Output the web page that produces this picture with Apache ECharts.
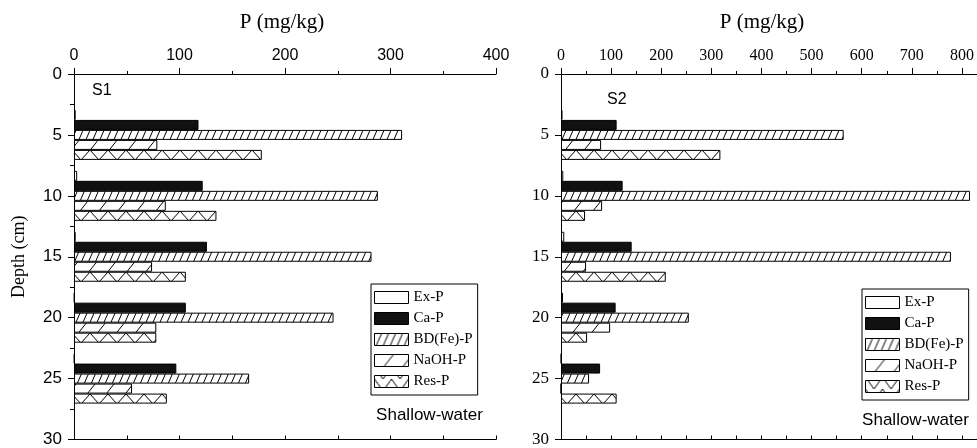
<!DOCTYPE html>
<html><head><meta charset="utf-8">
<script src="https://cdn.jsdelivr.net/npm/echarts@6/dist/echarts.min.js"></script>
<style>html,body{margin:0;padding:0;background:#fff}#c{width:977px;height:448px}</style>
</head><body><div id="c"></div>
<script>
// ---------- data ----------
const depthLabels = ['0', '5', '10', '15', '20', '25', '30'];
const depths = ['5', '10', '15', '20', '25'];
const seriesNames = ['Ex-P', 'Ca-P', 'BD(Fe)-P', 'NaOH-P', 'Res-P'];

const s1ExP   = [1.6, 3, 1.6, 0.5, 0.5];
const s1CaP   = [118, 122, 126, 106, 97];
const s1BdP   = [311, 288, 282, 246, 166];
const s1NaohP = [79, 87, 74, 78, 55];
const s1ResP  = [178, 135, 106, 78, 88];

const s2ExP   = [3, 4.6, 6.5, 4, 0.5];
const s2CaP   = [111, 123, 141, 109, 78];
const s2BdP   = [564, 816, 778, 255, 56];
const s2NaohP = [80, 82, 50, 98, 0];
const s2ResP  = [318, 48, 209, 52, 111];

const s1Max = 400, s2Max = 830;

// ---------- styles ----------
const GT = 74, GH = 366;           // grid top / height (6 bands of 61 px)
function tile(w, h, draw) {
  const c = document.createElement('canvas');
  c.width = w; c.height = h;
  const g = c.getContext('2d');
  g.fillStyle = '#fff'; g.fillRect(0, 0, w, h);
  g.strokeStyle = '#000'; g.lineWidth = 1;
  draw(g, w, h);
  return c;
}
function slashes(w, h) {
  return tile(w, h, (g) => {
    g.beginPath();
    for (const dx of [-w, 0, w]) { g.moveTo(dx, h); g.lineTo(dx + w, 0); }
    g.stroke();
  });
}
const bdTile = slashes(7, 16);
const naohTile = slashes(19, 24);
const resTile = tile(18, 61, (g) => {
  g.beginPath(); g.moveTo(0, 0); g.lineTo(9, 10); g.lineTo(18, 0); g.stroke();
});
const resLegTile = tile(17, 12, (g) => {
  g.beginPath(); g.moveTo(0, 0); g.lineTo(8.5, 12); g.lineTo(17, 0); g.stroke();
});

const styles = [
  { color: '#ffffff' },
  { color: '#111111' },
  { color: { image: bdTile, repeat: 'repeat' } },
  { color: { image: naohTile, repeat: 'repeat' } },
  { color: { image: resTile, repeat: 'repeat', y: GT + 15 } }
];

const sans = 'Liberation Sans, Arial, sans-serif';
const serif = 'Liberation Serif, Times New Roman, serif';

function mkSeries(vals, i, xi, yi) {
  return {
    type: 'bar', name: seriesNames[i], xAxisIndex: xi, yAxisIndex: yi,
    barWidth: 10, barGap: '0%',
    data: depths.map((d, k) => [vals[k], depthLabels.indexOf(d)]),
    itemStyle: Object.assign({ borderColor: '#000', borderWidth: 1 }, styles[i]),
    emphasis: { disabled: true }, silent: true
  };
}

const axisLineStyle = { show: true, lineStyle: { color: '#000', width: 1 } };

function topAxis(grid, max, font) {
  return {
    type: 'value', gridIndex: grid, position: 'top', min: 0, max: max, interval: 100,
    axisLine: axisLineStyle,
    axisTick: { show: true, inside: false, length: 6, lineStyle: { color: '#000' } },
    minorTick: { show: true, splitNumber: 2, length: 3, lineStyle: { color: '#000' } },
    axisLabel: { show: true, color: '#000', fontFamily: font, fontSize: 16, margin: 10, showMaxLabel: max === 400 },
    splitLine: { show: false }
  };
}
function bottomAxis(grid, max) {
  return {
    type: 'value', gridIndex: grid, position: 'bottom', min: 0, max: max, interval: 50,
    axisLine: axisLineStyle,
    axisTick: { show: true, inside: true, length: 4, lineStyle: { color: '#000' } },
    axisLabel: { show: false }, splitLine: { show: false }
  };
}
function catAxis(grid, font, name) {
  return {
    type: 'category', gridIndex: grid, position: 'left', data: depthLabels,
    inverse: true, boundaryGap: false,
    axisLine: axisLineStyle,
    axisTick: { show: true, inside: false, length: 6, interval: 0, lineStyle: { color: '#000' } },
    axisLabel: { show: true, interval: 0, color: '#000', fontFamily: font, fontSize: 17, margin: 12 },
    name: name || '', nameLocation: 'middle', nameGap: 46, nameRotate: 90,
    nameTextStyle: { color: '#000', fontFamily: serif, fontSize: 18 },
    splitLine: { show: false }
  };
}

const LPAD = 6, LPITCH = 21;
const legendCommon = {
  orient: 'vertical', icon: 'rect', itemWidth: 34, itemHeight: 12, itemGap: 6,
  padding: [LPAD, 5, LPAD, 3], borderColor: '#000', borderWidth: 1, backgroundColor: '#fff',
  textStyle: { fontFamily: serif, fontSize: 15, color: '#000' },
  itemStyle: { borderColor: '#000', borderWidth: 1 },
  selectedMode: false
};
function legendData(top) {
  return seriesNames.map((n, i) => i === 4
    ? { name: n, itemStyle: { color: { image: resLegTile, repeat: 'repeat', y: top + LPAD + 4 * LPITCH + 1.5, x: 0 } } }
    : { name: n });
}

const option = {
  animation: false,
  backgroundColor: '#fff',
  grid: [
    { left: 74, top: GT, width: 422, height: GH },
    { left: 561, top: GT, width: 418, height: GH }
  ],
  xAxis: [
    topAxis(0, s1Max, sans),
    bottomAxis(0, s1Max),
    topAxis(1, s2Max, serif),
    bottomAxis(1, s2Max)
  ],
  yAxis: [
    catAxis(0, sans, 'Depth (cm)'),
    {
      type: 'value', gridIndex: 0, position: 'right', min: 0, max: 30, interval: 2.5, inverse: true,
      axisLine: axisLineStyle,
      axisTick: { show: true, inside: true, length: 4, lineStyle: { color: '#000' } },
      axisLabel: { show: false }, splitLine: { show: false }
    },
    catAxis(1, serif)
  ],
  legend: [
    Object.assign({}, legendCommon, { left: 371, top: 284, data: legendData(284) }),
    Object.assign({}, legendCommon, { left: 862, top: 289, data: legendData(289) })
  ],
  graphic: [
    { type: 'text', x: 282, y: 22, style: { text: 'P (mg/kg)', font: '21px ' + serif, fill: '#000', align: 'center', verticalAlign: 'middle' } },
    { type: 'text', x: 762, y: 22, style: { text: 'P (mg/kg)', font: '21px ' + serif, fill: '#000', align: 'center', verticalAlign: 'middle' } },
    { type: 'text', x: 92, y: 91, style: { text: 'S1', font: '16px ' + sans, fill: '#000', align: 'left', verticalAlign: 'middle' } },
    { type: 'text', x: 607, y: 100, style: { text: 'S2', font: '16px ' + sans, fill: '#000', align: 'left', verticalAlign: 'middle' } },
    { type: 'text', x: 429.5, y: 415, style: { text: 'Shallow-water', font: '17px ' + sans, fill: '#000', align: 'center', verticalAlign: 'middle' } },
    { type: 'text', x: 915.5, y: 420, style: { text: 'Shallow-water', font: '17px ' + sans, fill: '#000', align: 'center', verticalAlign: 'middle' } }
  ],
  series: [
    mkSeries(s1ExP, 0, 0, 0), mkSeries(s1CaP, 1, 0, 0), mkSeries(s1BdP, 2, 0, 0),
    mkSeries(s1NaohP, 3, 0, 0), mkSeries(s1ResP, 4, 0, 0),
    mkSeries(s2ExP, 0, 2, 2), mkSeries(s2CaP, 1, 2, 2), mkSeries(s2BdP, 2, 2, 2),
    mkSeries(s2NaohP, 3, 2, 2), mkSeries(s2ResP, 4, 2, 2)
  ]
};

const chart = echarts.init(document.getElementById('c'), null, { renderer: 'canvas' });
chart.setOption(option);
</script>
</body></html>
